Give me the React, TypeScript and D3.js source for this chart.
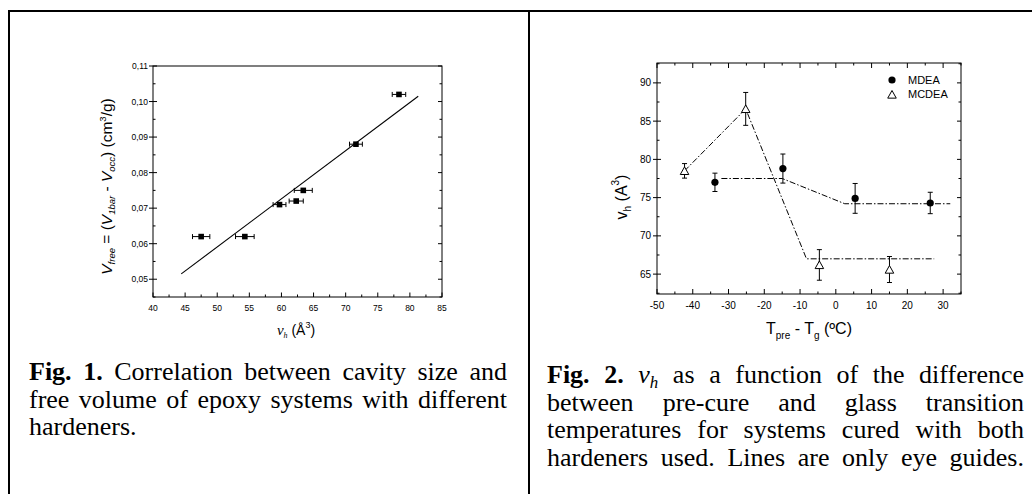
import React from 'react';
import * as d3 from 'd3';

// Fig. 1 data: cavity size vs free volume
const fig1Vh = [47.5, 54.3, 59.7, 62.3, 63.4, 71.6, 78.3];
const fig1Vfree = [0.062, 0.062, 0.071, 0.072, 0.075, 0.088, 0.102];
const fig1VhErr = [1.35, 1.45, 1.0, 1.1, 1.4, 1.0, 1.05];
const fig1FitX = [44.4, 81.3];
const fig1FitY = [0.0515, 0.1015];
const fig1XTicks = [40, 45, 50, 55, 60, 65, 70, 75, 80, 85];
const fig1YTicks = [0.05, 0.06, 0.07, 0.08, 0.09, 0.1, 0.11];

// Fig. 2 data: v_h vs Tpre - Tg
const mdeaT = [-33.8, -14.8, 5.4, 26.4];
const mdeaVh = [77.0, 78.8, 74.9, 74.3];
const mdeaErr = [1.2, 1.9, 1.95, 1.4];
const mcdeaT = [-42.3, -25.2, -4.6, 15.0];
const mcdeaVh = [78.5, 86.6, 66.2, 65.6];
const mcdeaErr = [0.95, 2.15, 2.0, 1.7];
const mdeaGuideT = [-32, -15, 2.5, 32];
const mdeaGuideV = [77.5, 77.5, 74.2, 74.2];
const mcdeaGuideT = [-42.3, -25.2, -8.2, 27.5];
const mcdeaGuideV = [78.5, 86.6, 67.0, 67.0];
const fig2XTicks = [-50, -40, -30, -20, -10, 0, 10, 20, 30];
const fig2YTicks = [65, 70, 75, 80, 85, 90];

const SANS = 'Arial, "Liberation Sans", sans-serif';
const SERIF = '"Times New Roman", "Liberation Serif", serif';

type Seg = { t: string; b?: boolean; i?: boolean; sub?: boolean };
type Word = Seg[];

const canvas = document.createElement('canvas');
const ctx = canvas.getContext('2d')!;
const measure = (s: Seg, size: number) => {
  const fs = s.sub ? size * 0.65 : size;
  ctx.font = `${s.i ? 'italic ' : ''}${s.b ? 'bold ' : ''}${fs}px "Liberation Serif"`;
  return ctx.measureText(s.t).width;
};
const plain = (line: string): Word[] => line.split(' ').map(w => [{ t: w }]);

const cap1: Word[][] = [
  [[{ t: 'Fig.', b: true }], [{ t: '1.', b: true }], ...plain('Correlation between cavity size and')],
  plain('free volume of epoxy systems with different'),
  plain('hardeners.'),
];
const cap2: Word[][] = [
  [[{ t: 'Fig.', b: true }], [{ t: '2.', b: true }], [{ t: 'v', i: true }, { t: 'h', i: true, sub: true }], ...plain('as a function of the difference')],
  plain('between pre-cure and glass transition'),
  plain('temperatures for systems cured with both'),
  plain('hardeners used. Lines are only eye guides.'),
];

type CapProps = { lines: Word[][]; x0: number; width: number; y0: number; lh: number; size: number; justifyLast?: boolean };

const Caption = ({ lines, x0, width, y0, lh, size, justifyLast }: CapProps) => {
  const space = measure({ t: ' ' }, size);
  return (
    <g fontFamily={SERIF} fontSize={size} fill="#000">
      {lines.map((line, li) => {
        const widths = line.map(w => d3.sum(w, s => measure(s, size)));
        const total = d3.sum(widths);
        const last = li === lines.length - 1 && !justifyLast;
        const gap = last || line.length < 2 ? space : (width - total) / (line.length - 1);
        let x = x0;
        return line.map((w, wi) => {
          const px = x;
          x += widths[wi] + gap;
          return (
            <text key={`${li}-${wi}`} x={px} y={y0 + li * lh}>
              {w.map((s, si) => (
                <tspan key={si} fontWeight={s.b ? 'bold' : undefined} fontStyle={s.i ? 'italic' : undefined}
                  fontSize={s.sub ? size * 0.65 : undefined} dy={s.sub ? 5 : 0}>{s.t}</tspan>
              ))}
            </text>
          );
        });
      })}
    </g>
  );
};

const mids = (t: number[]) => t.slice(1).map((v, i) => (v + t[i]) / 2);

const Fig1 = () => {
  const x = d3.scaleLinear().domain([40, 85]).range([153, 442]);
  const y = d3.scaleLinear().domain([0.045, 0.11]).range([297, 66]);
  const [x0, x1] = x.range();
  const [y0, y1] = y.range();
  const fmt = (v: number) => d3.format('.2f')(v).replace('.', ',');
  const yMinor = [0.045, ...mids(fig1YTicks)];
  const fit = d3.line<number>().x((_, i) => x(fig1FitX[i])).y(d => y(d));
  return (
    <g>
      <rect x={x0} y={y1} width={x1 - x0} height={y0 - y1} fill="none" stroke="#000" strokeWidth={1} />
      {fig1XTicks.map(t => (
        <g key={t}>
          <line x1={x(t)} x2={x(t)} y1={y0} y2={y0 - 4.5} stroke="#000" />
          <text x={x(t)} y={y0 + 13.5} textAnchor="middle" fontFamily={SANS} fontSize={8.5}>{t}</text>
        </g>
      ))}
      {mids(fig1XTicks).map(t => (
        <line key={t} x1={x(t)} x2={x(t)} y1={y0} y2={y0 - 2.5} stroke="#000" />
      ))}
      {fig1YTicks.map(t => (
        <g key={t}>
          <line x1={x0 - 4} x2={x0 + 4} y1={y(t)} y2={y(t)} stroke="#000" />
          <line x1={x1} x2={x1 - 4} y1={y(t)} y2={y(t)} stroke="#000" />
          <text x={x0 - 5} y={y(t) + 3} textAnchor="end" fontFamily={SANS} fontSize={8.5}>{fmt(t)}</text>
        </g>
      ))}
      {yMinor.map(t => (
        <g key={t}>
          <line x1={x0} x2={x0 + 2.5} y1={y(t)} y2={y(t)} stroke="#000" />
          <line x1={x1} x2={x1 - 2.5} y1={y(t)} y2={y(t)} stroke="#000" />
        </g>
      ))}
      <path d={fit(fig1FitY) || ''} fill="none" stroke="#000" strokeWidth={1.1} />
      {fig1Vh.map((v, i) => {
        const cx = x(v), cy = y(fig1Vfree[i]);
        const xa = x(v - fig1VhErr[i]), xb = x(v + fig1VhErr[i]);
        return (
          <g key={i} stroke="#000">
            <line x1={xa} x2={xb} y1={cy} y2={cy} />
            <line x1={xa} x2={xa} y1={cy - 2.5} y2={cy + 2.5} />
            <line x1={xb} x2={xb} y1={cy - 2.5} y2={cy + 2.5} />
            <rect x={cx - 2.8} y={cy - 2.8} width={5.6} height={5.6} fill="#000" stroke="none" />
          </g>
        );
      })}
      <text transform="translate(112,186.5) rotate(-90)" textAnchor="middle" fontFamily={SANS} fontSize={15.5}>
        <tspan fontStyle="italic">V</tspan>
        <tspan fontSize={9.5} fontStyle="italic" dy={3}>free</tspan>
        <tspan dy={-3}> = (</tspan>
        <tspan fontStyle="italic">V</tspan>
        <tspan fontSize={9.5} fontStyle="italic" dy={3}>1bar</tspan>
        <tspan dy={-3}> - </tspan>
        <tspan fontStyle="italic">V</tspan>
        <tspan fontSize={9.5} fontStyle="italic" dy={3}>occ</tspan>
        <tspan dy={-3}>) (cm</tspan>
        <tspan fontSize={9.5} dy={-6}>3</tspan>
        <tspan dy={6}>/g)</tspan>
      </text>
      <text x={296} y={335} textAnchor="middle" fontFamily={SANS} fontSize={14}>
        <tspan fontFamily={SERIF} fontStyle="italic" fontSize={15}>v</tspan>
        <tspan fontFamily={SERIF} fontStyle="italic" fontSize={8} dy={3}>h</tspan>
        <tspan dy={-3}> (Å</tspan>
        <tspan fontSize={9} dy={-7}>3</tspan>
        <tspan dy={7}>)</tspan>
      </text>
    </g>
  );
};

const triPath = (r: number) => `M0,${-r}L${r * 0.95},${r * 0.7}L${-r * 0.95},${r * 0.7}Z`;

const Fig2 = () => {
  const x = d3.scaleLinear().domain([-50, 35]).range([657, 961]);
  const y = d3.scaleLinear().domain([62.4, 92.6]).range([294, 63]);
  const [x0, x1] = x.range();
  const [y0, y1] = y.range();
  const xMinor = [...mids(fig2XTicks), 35];
  const yMinor = [62.5, ...mids(fig2YTicks), 92.5];
  const guide = (ts: number[]) => d3.line<number>().x((_, i) => x(ts[i])).y(d => y(d));
  const err = (xs: number[], vs: number[], es: number[]) =>
    xs.map((t, i) => {
      const cx = x(t), ya = y(vs[i] + es[i]), yb = y(vs[i] - es[i]);
      return (
        <g key={i} stroke="#000">
          <line x1={cx} x2={cx} y1={ya} y2={yb} />
          <line x1={cx - 2.5} x2={cx + 2.5} y1={ya} y2={ya} />
          <line x1={cx - 2.5} x2={cx + 2.5} y1={yb} y2={yb} />
        </g>
      );
    });
  return (
    <g>
      <rect x={x0} y={y1} width={x1 - x0} height={y0 - y1} fill="none" stroke="#000" strokeWidth={1} />
      {fig2XTicks.map(t => (
        <g key={t}>
          <line x1={x(t)} x2={x(t)} y1={y0} y2={y0 - 5} stroke="#000" />
          <line x1={x(t)} x2={x(t)} y1={y1} y2={y1 + 5} stroke="#000" />
          <text x={x(t)} y={y0 + 14.5} textAnchor="middle" fontFamily={SANS} fontSize={10}>{t}</text>
        </g>
      ))}
      {xMinor.map(t => (
        <g key={t}>
          <line x1={x(t)} x2={x(t)} y1={y0} y2={y0 - 2.5} stroke="#000" />
          <line x1={x(t)} x2={x(t)} y1={y1} y2={y1 + 2.5} stroke="#000" />
        </g>
      ))}
      {fig2YTicks.map(t => (
        <g key={t}>
          <line x1={x0 - 4} x2={x0 + 4} y1={y(t)} y2={y(t)} stroke="#000" />
          <line x1={x1} x2={x1 - 4} y1={y(t)} y2={y(t)} stroke="#000" />
          <text x={x0 - 6} y={y(t) + 3.6} textAnchor="end" fontFamily={SANS} fontSize={10}>{t}</text>
        </g>
      ))}
      {yMinor.map(t => (
        <g key={t}>
          <line x1={x0} x2={x0 + 2.5} y1={y(t)} y2={y(t)} stroke="#000" />
          <line x1={x1} x2={x1 - 2.5} y1={y(t)} y2={y(t)} stroke="#000" />
        </g>
      ))}
      <path d={guide(mdeaGuideT)(mdeaGuideV) || ''} fill="none" stroke="#000" strokeWidth={1} strokeDasharray="6,2,1.5,2" />
      <path d={guide(mcdeaGuideT)(mcdeaGuideV) || ''} fill="none" stroke="#000" strokeWidth={1} strokeDasharray="6,2,1.5,2" />
      {err(mdeaT, mdeaVh, mdeaErr)}
      {err(mcdeaT, mcdeaVh, mcdeaErr)}
      {mdeaT.map((t, i) => (
        <circle key={i} cx={x(t)} cy={y(mdeaVh[i])} r={3.6} fill="#000" />
      ))}
      {mcdeaT.map((t, i) => (
        <path key={i} d={triPath(4.5)} transform={`translate(${x(t)},${y(mcdeaVh[i]) + 0.5})`} fill="#fff" stroke="#000" strokeWidth={1} />
      ))}
      <circle cx={892} cy={80} r={3.6} fill="#000" />
      <text x={908} y={83.8} fontFamily={SANS} fontSize={11}>MDEA</text>
      <path d={triPath(4.5)} transform="translate(892,95)" fill="#fff" stroke="#000" />
      <text x={908} y={98.3} fontFamily={SANS} fontSize={11}>MCDEA</text>
      <text transform="translate(627,197) rotate(-90)" textAnchor="middle" fontFamily={SANS} fontSize={16}>
        <tspan>v</tspan>
        <tspan fontSize={10} dy={4}>h</tspan>
        <tspan dy={-4}> (A</tspan>
        <tspan fontSize={10} dy={-8}>3</tspan>
        <tspan dy={8}>)</tspan>
      </text>
      <text x={809} y={334} textAnchor="middle" fontFamily={SANS} fontSize={16}>
        <tspan>T</tspan>
        <tspan fontSize={10} dy={5}>pre</tspan>
        <tspan dy={-5}> - T</tspan>
        <tspan fontSize={10} dy={5}>g</tspan>
        <tspan dy={-5}> (ºC)</tspan>
      </text>
    </g>
  );
};

export default function App() {
  return (
    <svg width={1032} height={494} style={{ position: 'absolute', left: 0, top: 0, background: '#fff' }}>
      <rect width={1032} height={494} fill="#fff" />
      <line x1={8} y1={11} x2={1032} y2={11} stroke="#000" strokeWidth={2} />
      <line x1={9} y1={10} x2={9} y2={494} stroke="#000" strokeWidth={2} />
      <line x1={529} y1={10} x2={529} y2={494} stroke="#000" strokeWidth={2} />
      <Fig1 />
      <Fig2 />
      <Caption lines={cap1} x0={29} width={478} y0={380} lh={27.5} size={26} />
      <Caption lines={cap2} x0={547} width={477} y0={383} lh={27.7} size={26} justifyLast />
    </svg>
  );
}
